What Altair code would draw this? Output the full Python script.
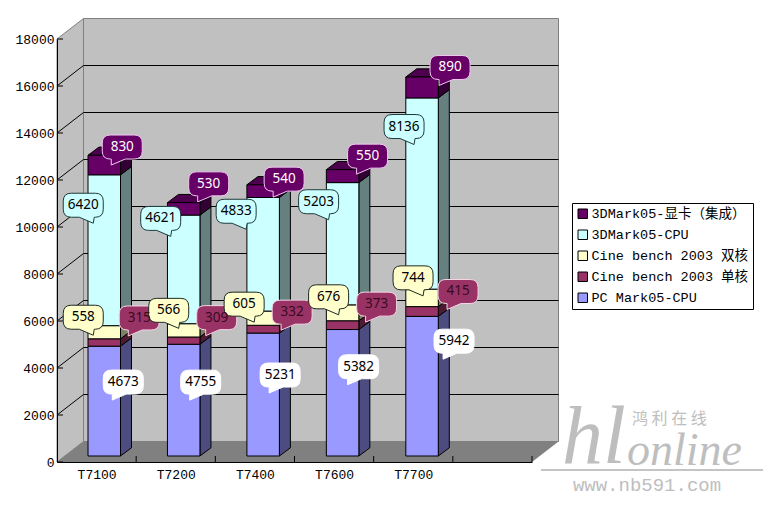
import altair as alt
import pandas as pd

# ---- chart values ----
categories = ["T7100", "T7200", "T7400", "T7600", "T7700"]
pc_mark = [4673, 4755, 5231, 5382, 5942]
cine_single = [315, 309, 332, 373, 415]
cine_dual = [558, 566, 605, 676, 744]
mark3d_cpu = [6420, 4621, 4833, 5203, 8136]
mark3d_gfx = [830, 530, 540, 550, 890]
series_names = ["PC Mark05-CPU", "Cine bench 2003 单核", "Cine bench 2003 双核", "3DMark05-CPU", "3DMark05-显卡（集成）"]
y_ticks = list(range(0, 18001, 2000))

# ---- layout and style ----
W, H = 475, 423
YMAX = 18000
U = YMAX / H                 # value units per pixel
WALL_DX, WALL_DY = 26.5, 20.5
BAR_LEFT, BAR_STEP, BAR_W = 31, 79.45, 32.5
BAR_BASE = 6
SIDE_DX, SIDE_DY = 11, 8.2
FONT = "Liberation Mono, Noto Sans CJK SC"
front_colors = ["#9999FF", "#993366", "#FFFFCC", "#CCFFFF", "#660066"]
side_colors = ["#4C4C80", "#4D1A33", "#808066", "#668080", "#330033"]
top_color = "#4D004D"
bubble_fill = ["#FFFFFF", "#993366", "#FFFFCC", "#CCFFFF", "#660066"]
bubble_stroke = ["#FFFFFF", "#F5D5E5", "#1E2A20", "#1E3A3A", "#F0C8F0"]
bubble_text = ["#000000", "#3A0A20", "#000000", "#000000", "#FFFFFF"]
tail_side = ["L", "L", "R", "R", "L"]
# callout displacement from each segment's centre, pixels (dx, dy up is negative)
nudges = [
    [(19, -19), (17, -18), (17, -19.5), (16, -26), (32, -45)],
    [(35, -24.5), (33, -23), (29, -17), (34, -21), (36, -20)],
    [(-21, -15), (-15, -20), (-19, -14), (-14, -16), (-9, -20)],
    [(-21, -45), (-23, -51), (-27, -43), (-24, -42), (-18, -67)],
    [(18, -18), (25, -25), (21, -12), (25, -20), (28, -20)],
]
TAIL_R = "M-12,-12 H12 Q20,-12 20,-4 V4 Q20,12 12,12 H11 L10,18 L-4,12 H-12 Q-20,12 -20,4 V-4 Q-20,-12 -12,-12 Z"
TAIL_L = "M-12,-12 H12 Q20,-12 20,-4 V4 Q20,12 12,12 H3 L-11,18 L-11,12 H-12 Q-20,12 -20,4 V-4 Q-20,-12 -12,-12 Z"

series_values = [pc_mark, cine_single, cine_dual, mark3d_cpu, mark3d_gfx]
base = BAR_BASE * U
side_rows, front_rows, top_rows, bubble_rows = [], [], [], []
for c, cat in enumerate(categories):
    x0 = BAR_LEFT + BAR_STEP * c
    x1 = x0 + BAR_W
    cum = 0
    for s, name in enumerate(series_names):
        v = series_values[s][c]
        lo, hi = cum + base, cum + v + base
        cum += v
        front_rows.append(dict(series=name, x=x0, x2=x1, y=lo, y2=hi))
        key = f"{c}-{s}"
        side_rows.append(dict(k=key, f=side_colors[s], x=x1, y=lo, y2=hi))
        side_rows.append(dict(k=key, f=side_colors[s], x=x1 + SIDE_DX, y=lo + SIDE_DY * U, y2=hi + SIDE_DY * U))
        dx, dy = nudges[s][c]
        bubble_rows.append(dict(label=str(v), side=tail_side[s], f=bubble_fill[s], st=bubble_stroke[s],
                                tc=bubble_text[s], x=(x0 + x1) / 2 + dx, y=(lo + hi) / 2 - dy * U))
    t = cum + base
    d = SIDE_DY * U
    top_rows += [dict(k=c, x=x0, y=t, y2=t),
                 dict(k=c, x=x0 + SIDE_DX, y=t, y2=t + d),
                 dict(k=c, x=x1, y=t, y2=t + d),
                 dict(k=c, x=x1 + SIDE_DX, y=t + d, y2=t + d)]

wall_s = WALL_DY * U
xq = alt.Scale(domain=[0, W], range=[0, W], nice=False, zero=False)
yq = alt.Scale(domain=[0, YMAX], nice=False)
y_axis = alt.Axis(values=y_ticks, tickSize=0, labelPadding=3, labelFont=FONT, labelFontSize=13,
                  labelColor="black", domainColor="black", grid=False, zindex=1, format="d", title=None)
X = lambda f="x": alt.X(f"{f}:Q", scale=xq, axis=None)
Y = lambda f="y": alt.Y(f"{f}:Q", scale=yq, axis=y_axis, title=None)

# category axis: band scale, sixth band is empty
axis_x = alt.Chart(pd.DataFrame({"cat": categories + [" "]})).mark_point(opacity=0).encode(
    x=alt.X("cat:N", sort=None, title=None,
            scale=alt.Scale(domain=categories + [" "], paddingInner=0, paddingOuter=0),
            axis=alt.Axis(labelAngle=0, tickSize=0, labelPadding=6, labelFont=FONT, labelFontSize=13,
                          labelColor="black", domainColor="black", zindex=1)))

left_wall = alt.Chart(pd.DataFrame({"x": [0, WALL_DX], "y": [0, wall_s], "y2": [YMAX, YMAX + wall_s]})).mark_area(
    color="#C0C0C0", stroke="#808080", strokeWidth=1).encode(x=X(), y=Y(), y2="y2:Q")
back_wall = alt.Chart(pd.DataFrame({"x": [WALL_DX], "x2": [W + WALL_DX], "y": [wall_s], "y2": [YMAX + wall_s]})).mark_rect(
    color="#C0C0C0", stroke="#808080", strokeWidth=1).encode(x=X(), x2="x2:Q", y=Y(), y2="y2:Q")
floor = alt.Chart(pd.DataFrame({"x": [0, WALL_DX, W, W + WALL_DX], "y": [0, 0, 0, wall_s], "y2": [0, wall_s, wall_s, wall_s]})).mark_area(
    color="#808080").encode(x=X(), y=Y(), y2="y2:Q")

grid_vals = [v for v in y_ticks if 0 < v < YMAX]
grid_back = alt.Chart(pd.DataFrame({"x": [WALL_DX] * len(grid_vals), "x2": [W + WALL_DX] * len(grid_vals),
                                    "y": [v + wall_s for v in grid_vals]})).mark_rule(color="black", strokeWidth=1).encode(
    x=X(), x2="x2:Q", y=Y())
grid_left = alt.Chart(pd.DataFrame([dict(v=v, x=x, y=v + (wall_s if x else 0)) for v in grid_vals for x in (0, WALL_DX)])).mark_line(
    color="black", strokeWidth=1).encode(x=X(), y=Y(), detail="v:N")
tick_y = alt.Chart(pd.DataFrame({"x": [0] * len(y_ticks), "x2": [6] * len(y_ticks), "y": y_ticks})).mark_rule(
    color="black", strokeWidth=1).encode(x=X(), x2="x2:Q", y=Y())
band = W / 6
tick_x = alt.Chart(pd.DataFrame({"x": [band * i for i in range(1, 7)], "y": [0] * 6, "y2": [6 * U] * 6})).mark_rule(
    color="black", strokeWidth=1).encode(x=X(), y=Y(), y2="y2:Q")

sides = alt.Chart(pd.DataFrame(side_rows)).mark_area(stroke="black", strokeWidth=1).encode(
    x=X(), y=Y(), y2="y2:Q", detail="k:N", fill=alt.Fill("f:N", scale=None))
tops = alt.Chart(pd.DataFrame(top_rows)).mark_area(color=top_color, stroke="black", strokeWidth=1).encode(
    x=X(), y=Y(), y2="y2:Q", detail="k:N")
fronts = alt.Chart(pd.DataFrame(front_rows)).mark_rect(stroke="black", strokeWidth=1, opacity=1).encode(
    x=X(), x2="x2:Q", y=Y(), y2="y2:Q",
    color=alt.Color("series:N", sort=None,
                    scale=alt.Scale(domain=series_names[::-1], range=front_colors[::-1]),
                    legend=alt.Legend(title=None, orient="none", legendX=515, legendY=164, symbolType="square",
                                      symbolSize=90, symbolStrokeColor="black", symbolStrokeWidth=1, symbolOpacity=1,
                                      labelFont=FONT, labelFontSize=13.5, labelColor="black", labelLimit=220,
                                      rowPadding=6, padding=4, fillColor="white", strokeColor="black",
                                      labelOffset=2, labelExpr="datum.label + '  '")))

bub = pd.DataFrame(bubble_rows)
def bubbles(side, path):
    return alt.Chart(bub[bub.side == side]).mark_point(shape=path, size=4, filled=True, opacity=1, strokeOpacity=1,
                                                       fillOpacity=1, strokeWidth=1).encode(
        x=X(), y=Y(), fill=alt.Fill("f:N", scale=None), stroke=alt.Stroke("st:N", scale=None))
bubble_l = bubbles("L", TAIL_L)
bubble_r = bubbles("R", TAIL_R)
bubble_t = alt.Chart(bub).mark_text(font="Noto Sans", fontSize=13.5, baseline="middle", align="center").encode(
    x=X(), y=Y(), text="label:N", fill=alt.Fill("tc:N", scale=None))

# faded site mark in the lower right corner
def wm(text, x, y, size, font="Liberation Serif", style="italic", align="left"):
    return alt.Chart(pd.DataFrame({"t": [text]})).mark_text(font=font, fontSize=size, fontStyle=style, align=align,
                                                            baseline="alphabetic", color="#BEBEBE").encode(
        text="t:N", x=alt.value(x), y=alt.value(y))
wm_line = alt.Chart(pd.DataFrame({"a": [0]})).mark_rule(color="#C4C4C4", strokeWidth=2).encode(
    x=alt.value(484), x2=alt.value(708), y=alt.value(431))
watermark = [wm("hl", 505, 424, 82), wm("online", 570, 426, 46), wm_line,
             wm("鸿 利 在 线", 575, 385, 16, font="Noto Sans CJK SC", style="normal"),
             wm("www.nb591.com", 590, 452, 19, font="Liberation Mono", style="normal", align="center")]

inner = alt.layer(left_wall, back_wall, floor, grid_back, grid_left, tick_y, tick_x,
                  sides, tops, fronts, bubble_l, bubble_r, bubble_t, *watermark)
chart = alt.layer(axis_x, inner).resolve_scale(x="independent").properties(
    width=W, height=H,
    padding={"left": 49, "top": 31, "right": 231, "bottom": 39},
    autosize=alt.AutoSizeParams(type="none"),
    background="white",
).configure_view(stroke=None)

chart.save("out.html", embed_options={"renderer": "svg", "actions": False})
